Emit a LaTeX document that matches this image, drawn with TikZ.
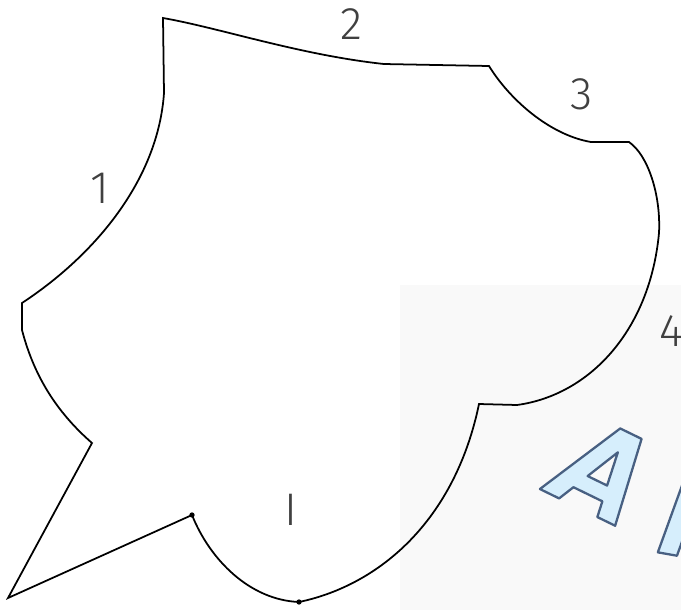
\documentclass[tikz,border=0pt]{standalone}
\usepackage{fontspec}
\usetikzlibrary{positioning}
\newfontfamily\lblfont{Fira Sans Light}
\newfontfamily\artfont{DejaVu Sans Condensed}
\definecolor{artfill}{RGB}{214,238,252}
\definecolor{boxgray}{RGB}{249,249,249}
% filled glyphs with a dark blue stroke round them
\newcommand{\artstroke}[1]{\special{pdf:code q 2 Tr 1.3 w 0.282 0.376 0.51 RG 1 j}#1\special{pdf:code Q}}

\tikzset{
    outline/.style={line width=1pt, line join=miter},
    lbl/.style={font=\lblfont\fontsize{26}{26}\selectfont, text=black!75, inner sep=0pt},
    handle/.style={circle, fill=black, inner sep=0pt, minimum size=3pt},
    art/.style={font=\artfont\bfseries\itshape\fontsize{70}{70}\selectfont, inner sep=0pt, anchor=base west, text=artfill}
}

\begin{document}
\begin{tikzpicture}[x=0.02cm, y=-0.02cm]
    \useasboundingbox (0,0) rectangle (681,610);
    \fill[boxgray] (400,285) rectangle (681,610);

    % outline of the shape
    \draw[outline] (163,18) .. controls (220,28) and (300,55) .. (384,64) -- (489,66)
        .. controls (510,100) and (550,135) .. (591,142) -- (629,142)
        .. controls (648,155) and (661,195) .. (659,233)
        .. controls (650,330) and (590,395) .. (517,405) -- (479,404)
        .. controls (455,520) and (380,585) .. (299,602)
        .. controls (250,600) and (210,560) .. (192,515) -- (8,598) -- (92,443)
        .. controls (60,415) and (35,380) .. (22,330) -- (22,303)
        .. controls (95,255) and (158,180) .. (164,93) -- cycle;

    \node[handle] (h1) at (192,515) {};
    \node[handle] (h2) at (299,602) {};

    \node[lbl] (n1) at (100,188) {1};
    \node[lbl] (n2) at (351,24) {2};
    \node[lbl] (n3) at (582,94) {3};
    \node[lbl] (n4) at (671,331) {4};
    \node[lbl] (n5) at (291,510) {I};

    \begin{scope}
        \clip (400,285) rectangle (681,610);
        \node[art, rotate=-26] (wa) at (546,492)
            {\artstroke{A\kern6.8pt\raisebox{-3.5pt}{\rotatebox[origin=bl]{16}{l}}}};
    \end{scope}
\end{tikzpicture}
\end{document}
